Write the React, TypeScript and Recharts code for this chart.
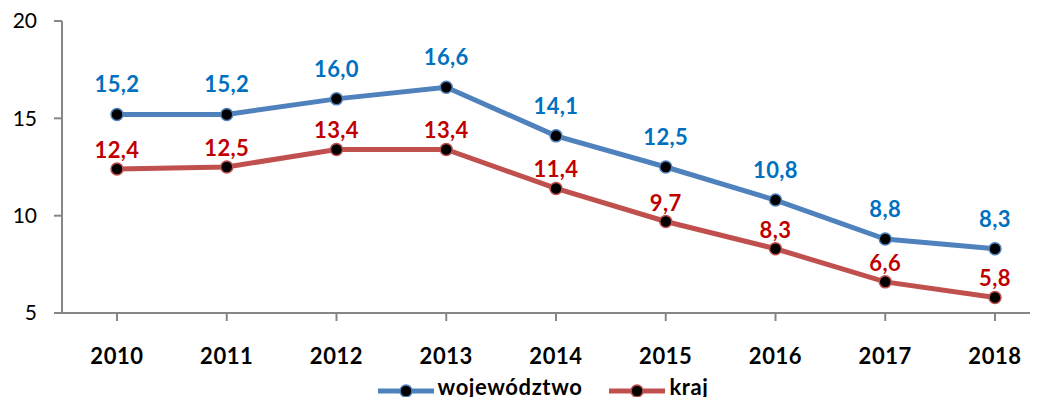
import { LineChart, Line, XAxis, YAxis, Legend, LabelList } from "recharts";

const years = ["2010", "2011", "2012", "2013", "2014", "2015", "2016", "2017", "2018"];
const wojewodztwo = [15.2, 15.2, 16.0, 16.6, 14.1, 12.5, 10.8, 8.8, 8.3];
const kraj = [12.4, 12.5, 13.4, 13.4, 11.4, 9.7, 8.3, 6.6, 5.8];
const yTicks = [5, 10, 15, 20];

const data = years.map((year, i) => ({ year, wojewodztwo: wojewodztwo[i], kraj: kraj[i] }));

const FONT = "Lato, 'Open Sans', sans-serif";
const AXIS = "#868686";
const BLUE_LINE = "#4F81BD";
const RED_LINE = "#C0504D";
const BLUE_LABEL = "#0070C0";
const RED_LABEL = "#C00000";

const fmt = (v: unknown) => Number(v).toFixed(1).replace(".", ",");

const legendItems = [
  { name: "województwo", color: BLUE_LINE },
  { name: "kraj", color: RED_LINE },
];

function LegendContent() {
  return (
    <div style={{ display: "flex", justifyContent: "center", alignItems: "center", gap: 27, fontFamily: FONT, height: 24 }}>
      {legendItems.map((it) => (
        <div key={it.name} style={{ display: "flex", alignItems: "center" }}>
          <svg width={56} height={16} style={{ position: "relative", top: 4 }}>
            <line x1={0} y1={8} x2={56} y2={8} stroke={it.color} strokeWidth={5} />
            <circle cx={28} cy={8} r={6} fill="#000" stroke={it.color} strokeWidth={1.5} />
          </svg>
          <span style={{ fontWeight: 700, fontSize: 22, lineHeight: "24px", color: "#000", marginLeft: 4, letterSpacing: 0.6 }}>
            {it.name}
          </span>
        </div>
      ))}
    </div>
  );
}

export default function App() {
  return (
    <div style={{ margin: -8, width: 1038, height: 405, overflow: "hidden", background: "#fff" }}>
      <LineChart width={1060} height={405} data={data} margin={{ top: 21, right: 10, bottom: 0, left: 0 }}>
        <XAxis
          dataKey="year"
          stroke={AXIS}
          strokeWidth={2}
          tickSize={8}
          tickMargin={27}
          interval={0}
          height={60}
          padding={{ left: 55, right: 55 }}
          tick={{ fill: "#000", fontSize: 22, fontWeight: 700, fontFamily: FONT, letterSpacing: 0.6 }}
        />
        <YAxis
          domain={[5, 20]}
          ticks={yTicks}
          width={62}
          stroke={AXIS}
          strokeWidth={2}
          tickSize={8}
          tickMargin={17}
          tick={{ fill: "#000", fontSize: 21, fontFamily: FONT }}
        />
        <Legend
          verticalAlign="bottom"
          height={32}
          content={() => <LegendContent />}
          wrapperStyle={{ top: 375, bottom: "auto", paddingLeft: 18 }}
        />
        <Line
          type="linear"
          dataKey="wojewodztwo"
          name="województwo"
          stroke={BLUE_LINE}
          strokeWidth={5}
          dot={{ r: 6, fill: "#000", stroke: BLUE_LINE, strokeWidth: 1.5 }}
          isAnimationActive={false}
        >
          <LabelList
            dataKey="wojewodztwo"
            position="top"
            offset={22}
            formatter={fmt}
            style={{ fill: BLUE_LABEL, fontSize: 22, fontWeight: 700, fontFamily: FONT, letterSpacing: 0.4 }}
          />
        </Line>
        <Line
          type="linear"
          dataKey="kraj"
          name="kraj"
          stroke={RED_LINE}
          strokeWidth={5}
          dot={{ r: 6, fill: "#000", stroke: RED_LINE, strokeWidth: 1.5 }}
          isAnimationActive={false}
        >
          <LabelList
            dataKey="kraj"
            position="top"
            offset={11}
            formatter={fmt}
            style={{ fill: RED_LABEL, fontSize: 22, fontWeight: 700, fontFamily: FONT, letterSpacing: 0.4 }}
          />
        </Line>
      </LineChart>
    </div>
  );
}
